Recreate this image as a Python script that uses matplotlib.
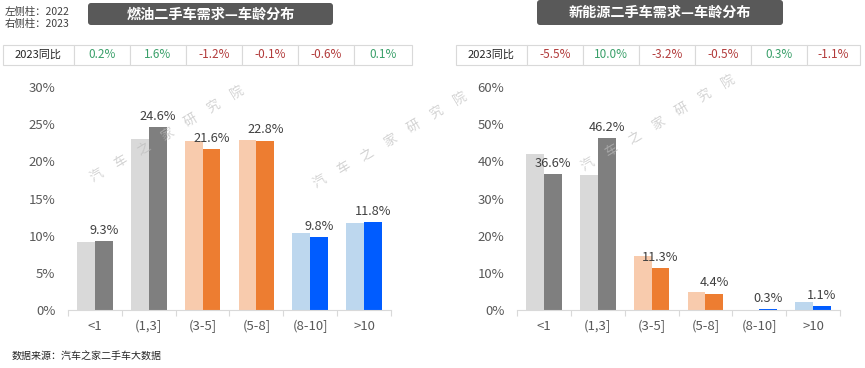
import matplotlib
matplotlib.use("Agg")
import matplotlib.pyplot as plt
from matplotlib.patches import FancyBboxPatch, Rectangle
import numpy as np

plt.rcParams['font.family'] = ['Noto Sans CJK SC', 'DejaVu Sans']

categories = ["<1", "(1,3]", "(3-5]", "(5-8]", "(8-10]", ">10"]
fuel_2022 = [9.1, 23.0, 22.8, 22.9, 10.4, 11.7]
fuel_2023 = [9.3, 24.6, 21.6, 22.8, 9.8, 11.8]
nev_2022 = [42.1, 36.2, 14.5, 4.9, 0.0, 2.2]
nev_2023 = [36.6, 46.2, 11.3, 4.4, 0.3, 1.1]
fuel_yoy = ["0.2%", "1.6%", "-1.2%", "-0.1%", "-0.6%", "0.1%"]
nev_yoy = ["-5.5%", "10.0%", "-3.2%", "-0.5%", "0.3%", "-1.1%"]
fuel_yticks = [0, 5, 10, 15, 20, 25, 30]
nev_yticks = [0, 10, 20, 30, 40, 50, 60]
title_fuel = "燃油二手车需求—车龄分布"
title_nev = "新能源二手车需求—车龄分布"
legend_lines = ["左侧柱：2022", "右侧柱：2023"]
table_head = "2023同比"
source_text = "数据来源：汽车之家二手车大数据"
watermark = "汽车之家研究院"

light_cols = ["#D9D9D9", "#D9D9D9", "#F8CBAD", "#F8CBAD", "#BDD7EE", "#BDD7EE"]
dark_cols = ["#7F7F7F", "#7F7F7F", "#ED7D31", "#ED7D31", "#005CFF", "#005CFF"]
GREEN = "#3AA06A"
RED = "#B23B3B"

W, H = 865, 368
fig = plt.figure(figsize=(W / 100, H / 100), dpi=100)
fig.patch.set_facecolor("white")


def px_axes(x0, y0, x1, y1):
    return fig.add_axes([x0 / W, 1 - y1 / H, (x1 - x0) / W, (y1 - y0) / H])


def draw_bars(ax, v22, v23, yticks):
    x = np.arange(len(categories))
    w = 0.33
    ax.bar(x - w / 2, v22, w, color=light_cols, zorder=2)
    ax.bar(x + w / 2, v23, w, color=dark_cols, zorder=2)
    for xi, v in zip(x, v23):
        ax.annotate(f"{v:.1f}%", (xi + w / 2, v), xytext=(0, 3), textcoords="offset points",
                    ha="center", va="bottom", fontsize=9.2, color="#404040")
    ax.set_xlim(-0.5, len(categories) - 0.5)
    ax.set_ylim(0, yticks[-1])
    ax.set_yticks(yticks)
    ax.set_yticklabels([f"{t}%" for t in yticks])
    ax.set_xticks(x)
    ax.set_xticklabels(categories)
    ax.set_xticks(np.arange(len(categories) + 1) - 0.5, minor=True)
    ax.tick_params(axis="x", which="major", length=0, pad=7, labelsize=9.5, labelcolor="#595959")
    ax.tick_params(axis="x", which="minor", length=4, color="#D9D9D9", width=0.8)
    ax.tick_params(axis="y", length=0, pad=9, labelsize=9.5, labelcolor="#595959")
    for s in ["top", "right", "left"]:
        ax.spines[s].set_visible(False)
    ax.spines["bottom"].set_color("#D9D9D9")
    ax.spines["bottom"].set_linewidth(0.8)
    ax.set_facecolor("none")


# overlay in pixel coords for decorations (behind charts)
ov = fig.add_axes([0, 0, 1, 1])
ov.set_xlim(0, W)
ov.set_ylim(H, 0)
ov.axis("off")
ov.set_zorder(0)

ax1 = px_axes(68, 87, 391, 310)
draw_bars(ax1, fuel_2022, fuel_2023, fuel_yticks)
ax2 = px_axes(517, 87, 840, 310)
draw_bars(ax2, nev_2022, nev_2023, nev_yticks)

# top overlay for watermark
top = fig.add_axes([0, 0, 1, 1])
top.set_xlim(0, W)
top.set_ylim(H, 0)
top.axis("off")
top.patch.set_alpha(0)
top.set_zorder(10)


def watermark_at(x0, y0):
    for i, ch in enumerate(watermark):
        top.text(x0 + 23.4 * i, y0 - 13.9 * i, ch, rotation=31, fontsize=9.5, color="#BBBBBB",
                 alpha=0.65, ha="center", va="center", fontweight="light")


watermark_at(97, 176)
watermark_at(320, 182)
watermark_at(588, 165)

# title boxes
for (x0, y0, x1, y1), t in [((88, 3, 333, 25), title_fuel), ((537, 0, 783, 25), title_nev)]:
    ov.add_patch(FancyBboxPatch((x0 + 3, y0 + 3), x1 - x0 - 6, y1 - y0 - 6,
                                boxstyle="round,pad=3", fc="#595959", ec="none"))
    ov.text((x0 + x1) / 2, (y0 + y1) / 2 + 0.5, t, color="white", fontsize=10.2,
            fontweight="bold", ha="center", va="center")

# legend text
ov.text(5, 12, legend_lines[0], fontsize=7.5, color="#404040", va="center")
ov.text(5, 24, legend_lines[1], fontsize=7.5, color="#404040", va="center")


def table(edges, vals):
    y0, y1 = 45, 65
    for i in range(len(edges) - 1):
        ov.add_patch(Rectangle((edges[i], y0), edges[i + 1] - edges[i], y1 - y0,
                               fc="white", ec="#D9D9D9", lw=0.8))
    ov.text((edges[0] + edges[1]) / 2, (y0 + y1) / 2, table_head, fontsize=8,
            color="#262626", ha="center", va="center")
    for i, v in enumerate(vals):
        c = RED if v.startswith("-") else GREEN
        ov.text((edges[i + 1] + edges[i + 2]) / 2, (y0 + y1) / 2, v, fontsize=8.5,
                color=c, ha="center", va="center")


table([3, 74, 130, 186, 242, 298, 354, 412], fuel_yoy)
table([456, 527, 583, 639, 695, 751, 807, 860], nev_yoy)

ov.text(12, 356, source_text, fontsize=7.2, color="#262626", va="center")

fig.savefig("out.png", dpi=100)
